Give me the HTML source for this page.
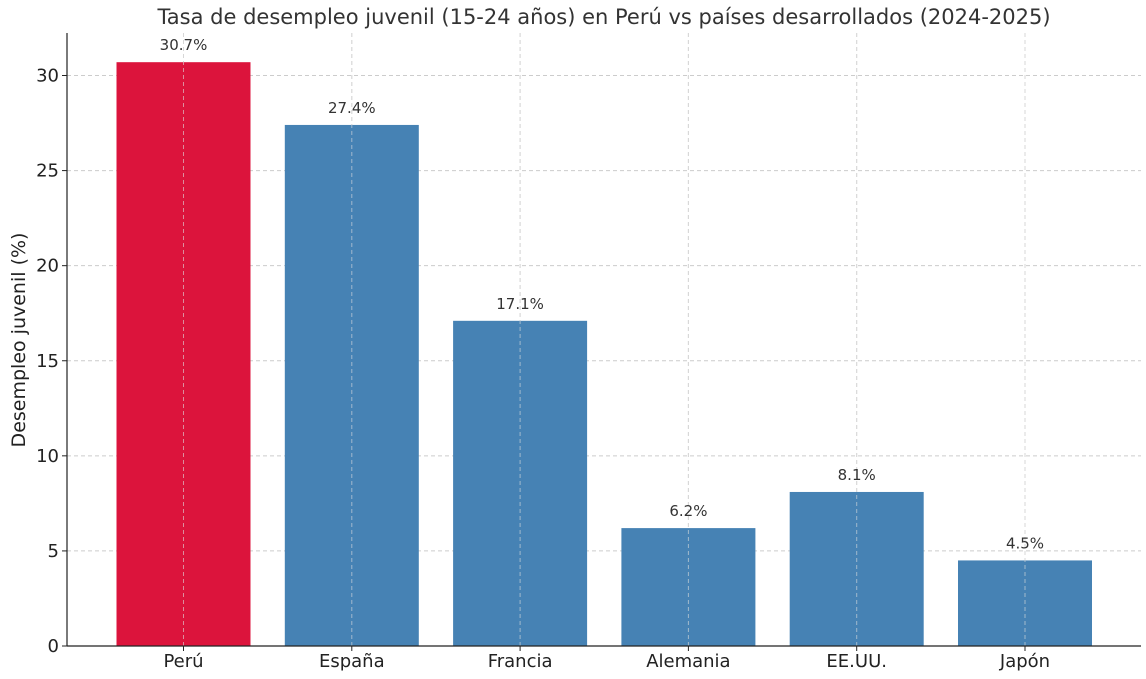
<!DOCTYPE html>
<html><head><meta charset="utf-8">
<style>
body{margin:0;background:#fff;}
svg{display:block;font-family:"DejaVu Sans","Liberation Sans",sans-serif;}
</style></head>
<body>
<svg id="chart" width="1146" height="679" viewBox="0 0 1146 679">
<text x="604" y="24" text-anchor="middle" font-size="21" fill="#333">Tasa de desempleo juvenil (15-24 años) en Perú vs países desarrollados (2024-2025)</text>
<text transform="translate(25,340) rotate(-90)" text-anchor="middle" font-size="19" fill="#222">Desempleo juvenil (%)</text>
<g id="grid"></g><g id="bars"></g><g id="axes"></g>
</svg>
<script>
const categories=["Perú","España","Francia","Alemania","EE.UU.","Japón"];
const values=[30.7,27.4,17.1,6.2,8.1,4.5];
const colors=["#dc143c","#4682b4","#4682b4","#4682b4","#4682b4","#4682b4"];
const yTicks=[0,5,10,15,20,25,30];
const NS="http://www.w3.org/2000/svg";
const L=67,R=1141,T=33,B=646,yMax=32.235;
const x0=183.5,step=168.3,bw=134;
const yS=v=>B-(B-T)*v/yMax;
const xS=i=>x0+i*step;
function mk(tag,attrs,parent,txt){const e=document.createElementNS(NS,tag);for(const k in attrs)e.setAttribute(k,attrs[k]);if(txt!==undefined)e.textContent=txt;parent.appendChild(e);return e;}
const grid=document.getElementById('grid'),bars=document.getElementById('bars'),axes=document.getElementById('axes');
yTicks.forEach(t=>{
 const y=yS(t);
 const g=mk('line',{x1:L,x2:R,y1:y,y2:y,stroke:'#ccc','stroke-dasharray':'4,3','stroke-width':1},grid);
 
 
 const tk=mk('line',{x1:L-5,x2:L,y1:y,y2:y,stroke:'#222'},axes);
 
 
 const lb=mk('text',{x:L-8,y:y+6,'text-anchor':'end','font-size':18,fill:'#222'},axes,String(t));
 
 
});
categories.forEach((c,i)=>{
 const cx=xS(i);
 const gl=mk('line',{x1:cx,x2:cx,y1:T,y2:B,stroke:'#ccc','stroke-dasharray':'4,3'},grid);
 
 
 const r=mk('rect',{x:cx-bw/2,y:yS(values[i]),width:bw,height:B-yS(values[i]),fill:colors[i]},bars);
 
 
 const gl2=mk('line',{x1:cx,x2:cx,y1:T,y2:B,stroke:'#ddd','stroke-dasharray':'4,3','stroke-opacity':0.6},bars);
 
 
 const v=mk('text',{x:cx,y:yS(values[i])-12,'text-anchor':'middle','font-size':15,fill:'#333'},bars,values[i].toFixed(1)+'%');
 
 
 const tk=mk('line',{x1:cx,x2:cx,y1:B,y2:B+5,stroke:'#222'},axes);
 
 
 const lb=mk('text',{x:cx,y:B+21,'text-anchor':'middle','font-size':18,fill:'#222'},axes,c);
 
 
});
const ya=mk('line',{x1:L,x2:L,y1:T,y2:B,stroke:'#222','stroke-width':1.2},axes);


const xa=mk('line',{x1:L,x2:R,y1:B,y2:B,stroke:'#222','stroke-width':1.2},axes);


</script>
</body></html>
